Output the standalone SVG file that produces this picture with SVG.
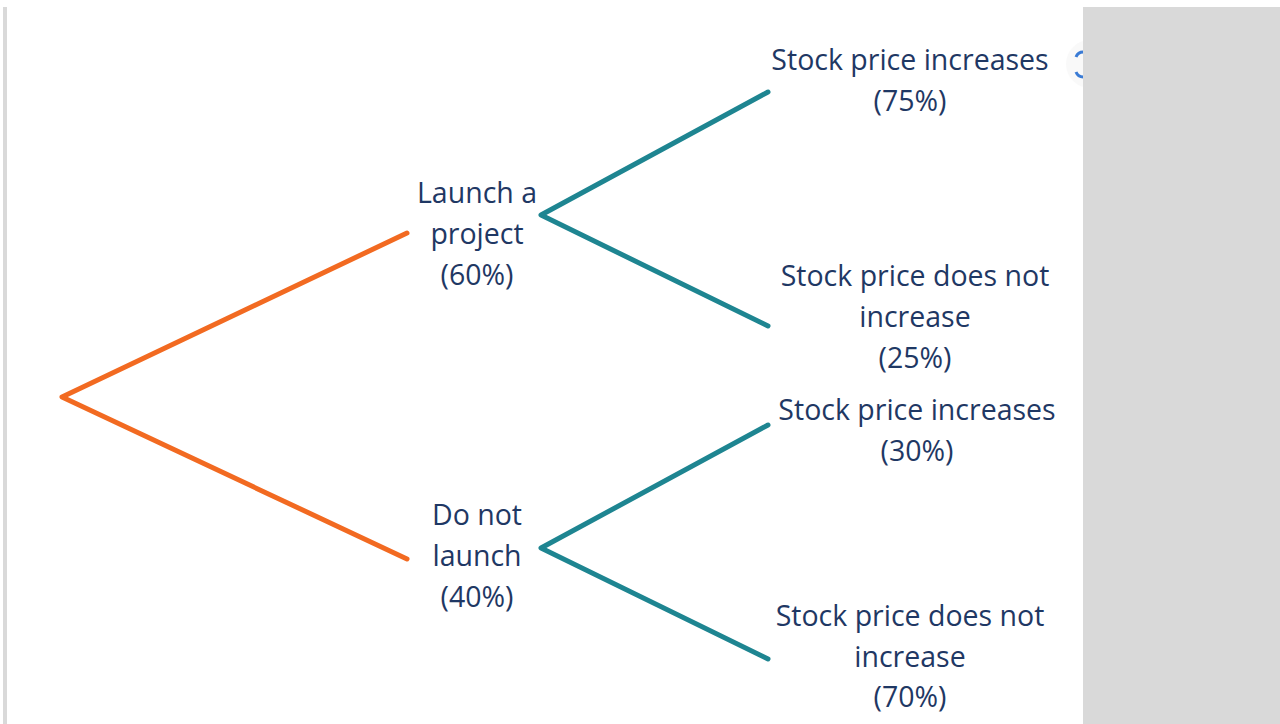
<svg xmlns="http://www.w3.org/2000/svg" width="1280" height="724" viewBox="0 0 1280 724">
  <style>
    .lbl { font-family: "Open Sans", "Noto Sans", "Liberation Sans", sans-serif; font-size: 28.5px; fill: #1f3864; text-anchor: middle; }
    .first { stroke: #f26a21; stroke-width: 5; fill: none; stroke-linecap: round; stroke-linejoin: round; }
    .second { stroke: #1e8591; stroke-width: 5; fill: none; stroke-linecap: round; stroke-linejoin: round; }
  </style>
  <rect width="1280" height="724" fill="#ffffff"/>
  <!-- clipped toolbar icon, partly hidden by the side panel -->
  <g id="icon">
    <circle cx="1090" cy="64" r="24" fill="#f3f3f3" opacity="0.5"/>
    <path d="M1076 57 A8 8 0 0 1 1084 52 M1076 72 A8 8 0 0 0 1084 77" stroke="#3a7bd5" stroke-width="3" fill="none"/>
  </g>
  <!-- side panels -->
  <rect x="3" y="7" width="4" height="717" fill="#d9d9d9"/>
  <rect x="1083" y="7" width="197" height="717" fill="#d9d9d9"/>
  <g id="connectors">
    <polyline class="first" points="407,233 62,397 407,559"/>
    <polyline class="second" points="768,92 541,215 768,326"/>
    <polyline class="second" points="768,425 541,548 768,659"/>
  </g>
  <g id="launch">
    <text class="lbl" x="477" y="203">Launch a</text>
    <text class="lbl" x="477" y="244">project</text>
    <text class="lbl" x="477" y="285">(60%)</text>
  </g>
  <g id="no-launch">
    <text class="lbl" x="477" y="525">Do not</text>
    <text class="lbl" x="477" y="566">launch</text>
    <text class="lbl" x="477" y="607">(40%)</text>
  </g>
  <g id="launch-up">
    <text class="lbl" x="910" y="70">Stock price increases</text>
    <text class="lbl" x="910" y="111">(75%)</text>
  </g>
  <g id="launch-flat">
    <text class="lbl" x="915" y="286">Stock price does not</text>
    <text class="lbl" x="915" y="327">increase</text>
    <text class="lbl" x="915" y="368">(25%)</text>
  </g>
  <g id="no-launch-up">
    <text class="lbl" x="917" y="420">Stock price increases</text>
    <text class="lbl" x="917" y="461">(30%)</text>
  </g>
  <g id="no-launch-flat">
    <text class="lbl" x="910" y="626">Stock price does not</text>
    <text class="lbl" x="910" y="667">increase</text>
    <text class="lbl" x="910" y="707">(70%)</text>
  </g>
</svg>
